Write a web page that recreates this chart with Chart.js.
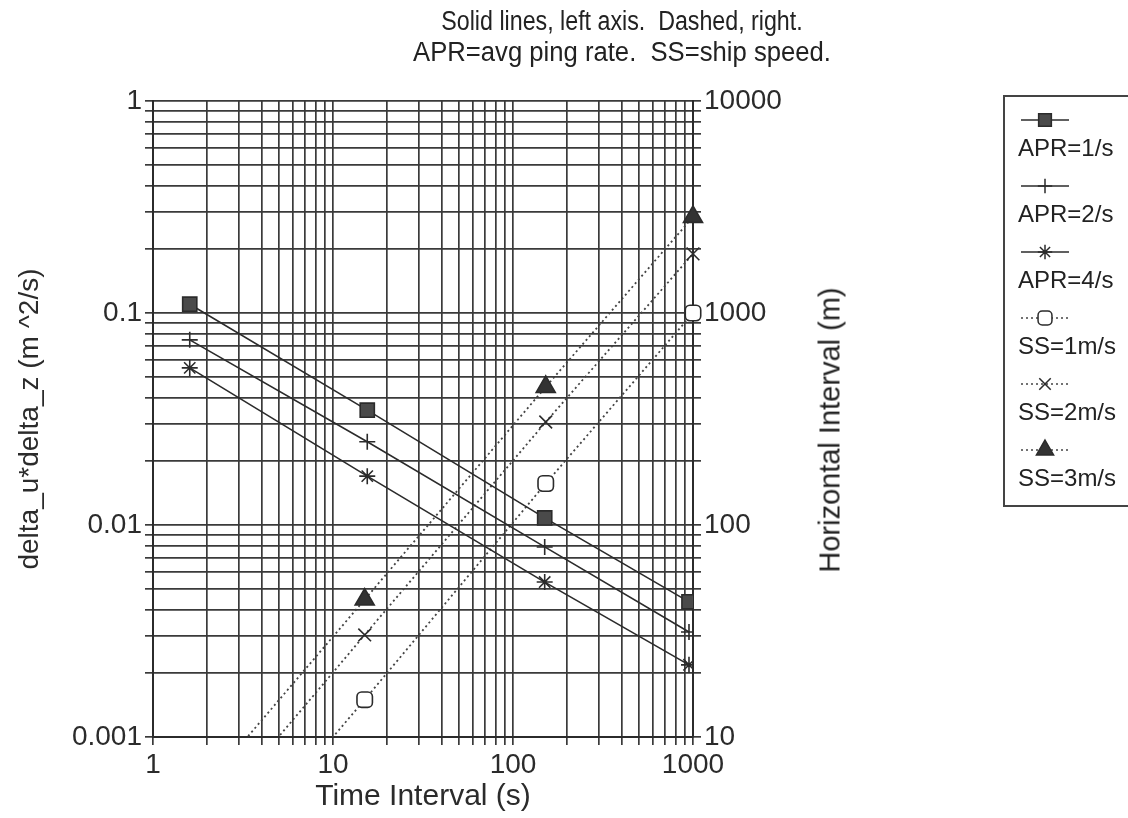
<!DOCTYPE html>
<html>
<head>
<meta charset="utf-8">
<script src="https://cdn.jsdelivr.net/npm/chart.js@4.4.1/dist/chart.umd.min.js"></script>
<style>
  body { margin: 0; background: #fff; }
  #wrap { position: relative; width: 1128px; height: 818px; overflow: hidden;
          font-family: "Liberation Sans", Arial, sans-serif; color: #222; }
  #chartCanvas { position: absolute; left: 0; top: 0; }
  .titleLine { position: absolute; left: 622px; white-space: nowrap;
               font-size: 27px; line-height: 31px; }
  #titleA { top: 6px; transform: translateX(-50%) scaleX(0.86); }
  #titleB { top: 37px; transform: translateX(-50%) scaleX(0.95); }
  #rightTitle { position: absolute; left: 830px; top: 430px; white-space: nowrap; font-size: 29px;
                transform: translate(-50%, -50%) rotate(-90deg); }
  #legend { position: absolute; left: 1003px; top: 95px; width: 150px; height: 412px;
            border: 2px solid #444; box-sizing: border-box; }
  .item { height: 66px; padding-top: 10px; box-sizing: border-box; }
  .item canvas { display: block; margin-left: 12px; }
  .item span { display: block; margin-left: 13px; font-size: 24px; line-height: 30px; }
</style>
</head>
<body>
<div id="wrap">
  <canvas id="chartCanvas" width="1128" height="818"></canvas>
  <div class="titleLine" id="titleA">Solid lines, left axis.&nbsp; Dashed, right.</div>
  <div class="titleLine" id="titleB">APR=avg ping rate.&nbsp; SS=ship speed.</div>
  <div id="rightTitle">Horizontal Interval (m)</div>
  <div id="legend"></div>
</div>
<script>
// time interval (s) for each series
const timeApr = [1.6, 15.5, 150, 950];
const timeSs = [1.6, 15, 152, 1000];

// solid lines, left axis: delta_u*delta_z (m^2/s)
const apr1 = [0.110, 0.0348, 0.0108, 0.00434];
const apr2 = [0.0747, 0.0247, 0.00788, 0.00313];
const apr4 = [0.0551, 0.0170, 0.00538, 0.00219];

// dashed lines, right axis: horizontal interval (m)
const ss1 = [1.6, 15.0, 157, 1000];
const ss2 = [3.2, 30.3, 306, 1900];
const ss3 = [4.8, 44.5, 448, 2840];

const xTickLabels = [1, 10, 100, 1000];
const yTickLabels = [0.001, 0.01, 0.1, 1];
const y2TickLabels = [10, 100, 1000, 10000];

const ink = '#2b2b2b';
const gridInk = '#3a3a3a';
const family = '"Liberation Sans", Arial, sans-serif';
const tickFont = { family: family, size: 28 };

// gridlines at 1..9 of every decade
function decadeGrid(min, max) {
    const vals = [];
    for (let d = min; d < max * 0.999; d *= 10) {
        for (let m = 1; m < 10; m++) vals.push(+(d * m).toPrecision(3));
    }
    vals.push(max);
    return vals;
}

function sameLog(a, b) {
    return Math.abs(Math.log10(a) - Math.log10(b)) < 1e-6;
}

function logAxis(labels, extra) {
    const min = labels[0], max = labels[labels.length - 1];
    return Object.assign({
        type: 'logarithmic',
        min: min,
        max: max,
        afterBuildTicks: (scale) => {
            scale.ticks = decadeGrid(min, max).map(v => ({ value: v }));
        },
        ticks: {
            autoSkip: false,
            maxRotation: 0,
            color: ink,
            font: tickFont,
            padding: 3,
            callback: (value) => {
                const hit = labels.find(l => sameLog(l, value));
                return hit === undefined ? '' : String(hit);
            }
        },
        grid: { color: gridInk, lineWidth: 1.7, tickLength: 8 },
        border: { display: true, color: ink, width: 2 }
    }, extra);
}

function pts(xs, ys) {
    return xs.map((x, i) => ({ x: x, y: ys[i] }));
}

const solid = { borderColor: ink, borderWidth: 1.6, pointBorderColor: ink, pointBorderWidth: 1.6, yAxisID: 'y' };
const dashed = { borderColor: '#444', borderWidth: 1.8, borderDash: [2, 3], pointBorderColor: ink,
                 pointBorderWidth: 1.6, yAxisID: 'y2', clip: { left: 0, top: 0, right: 14, bottom: 0 } };

const datasets = [
    Object.assign({ label: 'APR=1/s', data: pts(timeApr, apr1), pointStyle: 'rect', pointRadius: 10,
                    pointBackgroundColor: '#4a4a4a' }, solid),
    Object.assign({ label: 'APR=2/s', data: pts(timeApr, apr2), pointStyle: 'cross', pointRadius: 8,
                    pointBackgroundColor: ink }, solid),
    Object.assign({ label: 'APR=4/s', data: pts(timeApr, apr4), pointStyle: 'star', pointRadius: 8,
                    pointBackgroundColor: ink }, solid),
    Object.assign({ label: 'SS=1m/s', data: pts(timeSs, ss1), pointStyle: 'rectRounded', pointRadius: 9,
                    pointBackgroundColor: '#fff' }, dashed),
    Object.assign({ label: 'SS=2m/s', data: pts(timeSs, ss2), pointStyle: 'crossRot', pointRadius: 9,
                    pointBackgroundColor: ink }, dashed),
    Object.assign({ label: 'SS=3m/s', data: pts(timeSs, ss3), pointStyle: 'triangle', pointRadius: 11,
                    pointBackgroundColor: '#333' }, dashed)
];
datasets.forEach(d => { d.showLine = true; d.fill = false; d.tension = 0; d.backgroundColor = d.pointBackgroundColor; });

const ctx = document.getElementById('chartCanvas').getContext('2d');
const chart = new Chart(ctx, {
    type: 'scatter',
    data: { datasets: datasets },
    options: {
        responsive: false,
        animation: false,
        layout: { padding: { left: 9, right: 275, top: 101, bottom: 1 } },
        plugins: {
            legend: { display: false },
            tooltip: { enabled: false },
            title: { display: false }
        },
        scales: {
            x: logAxis(xTickLabels, {
                position: 'bottom',
                title: { display: true, text: 'Time Interval (s)', color: ink, font: { family: family, size: 30 }, padding: 2 },
                afterFit: (scale) => { scale.height = 80; }
            }),
            y: logAxis(yTickLabels, {
                position: 'left',
                title: { display: true, text: 'delta_u*delta_z (m ^2/s)', color: ink, font: { family: family, size: 28 }, padding: 4 },
                afterFit: (scale) => { scale.width = 144; }
            }),
            y2: logAxis(y2TickLabels, {
                position: 'right',
                grid: { color: gridInk, lineWidth: 1.7, tickLength: 8, drawOnChartArea: false },
                afterFit: (scale) => { scale.width = 160; }
            })
        }
    }
});

// legend: sample line with marker above each label
const legendBox = document.getElementById('legend');
chart.data.datasets.forEach(ds => {
    const item = document.createElement('div');
    item.className = 'item';
    const c = document.createElement('canvas');
    c.width = 56; c.height = 26;
    const g = c.getContext('2d');
    g.strokeStyle = ds.borderColor;
    g.lineWidth = 1.5;
    g.setLineDash(ds.borderDash || []);
    g.beginPath(); g.moveTo(4, 13); g.lineTo(52, 13); g.stroke();
    g.setLineDash([]);
    g.fillStyle = ds.pointBackgroundColor;
    g.strokeStyle = ds.pointBorderColor;
    g.lineWidth = 1.5;
    if (Chart.helpers && Chart.helpers.drawPoint) {
        Chart.helpers.drawPoint(g, { pointStyle: ds.pointStyle, radius: ds.pointRadius * 0.9,
                                     rotation: 0, borderWidth: 1.5 }, 28, 13);
    }
    const s = document.createElement('span');
    s.textContent = ds.label;
    item.appendChild(c);
    item.appendChild(s);
    legendBox.appendChild(item);
});
</script>
</body>
</html>
